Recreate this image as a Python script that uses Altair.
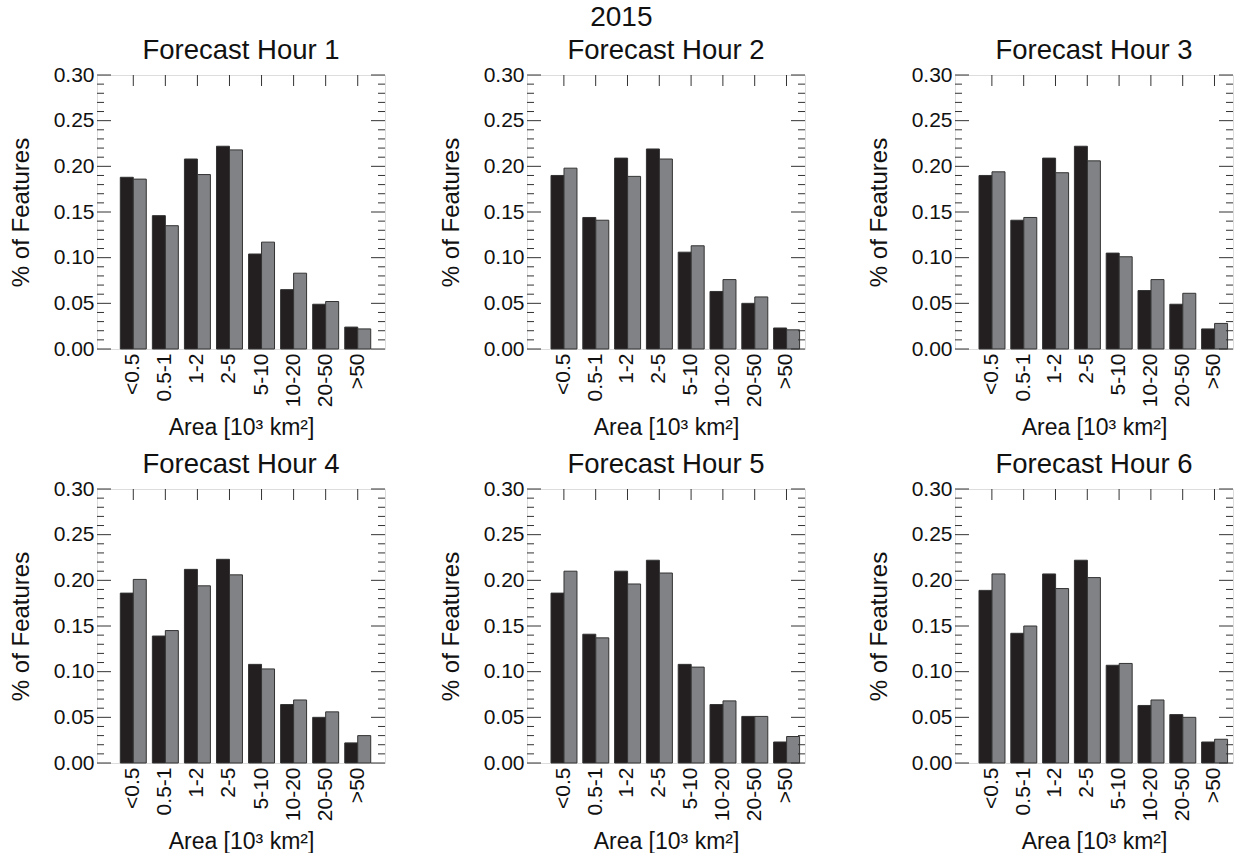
import altair as alt
import pandas as pd

# ---------------- data ----------------
categories = ["<0.5", "0.5-1", "1-2", "2-5", "5-10", "10-20", "20-50", ">50"]
series_names = ["Series 1", "Series 2"]  # black, gray

hour1_s1 = [0.188, 0.146, 0.208, 0.222, 0.104, 0.065, 0.049, 0.024]
hour1_s2 = [0.186, 0.135, 0.191, 0.218, 0.117, 0.083, 0.052, 0.022]
hour2_s1 = [0.190, 0.144, 0.209, 0.219, 0.106, 0.063, 0.050, 0.023]
hour2_s2 = [0.198, 0.141, 0.189, 0.208, 0.113, 0.076, 0.057, 0.021]
hour3_s1 = [0.190, 0.141, 0.209, 0.222, 0.105, 0.064, 0.049, 0.022]
hour3_s2 = [0.194, 0.144, 0.193, 0.206, 0.101, 0.076, 0.061, 0.028]
hour4_s1 = [0.186, 0.139, 0.212, 0.223, 0.108, 0.064, 0.050, 0.022]
hour4_s2 = [0.201, 0.145, 0.194, 0.206, 0.103, 0.069, 0.056, 0.030]
hour5_s1 = [0.186, 0.141, 0.210, 0.222, 0.108, 0.064, 0.051, 0.023]
hour5_s2 = [0.210, 0.137, 0.196, 0.208, 0.105, 0.068, 0.051, 0.029]
hour6_s1 = [0.189, 0.142, 0.207, 0.222, 0.107, 0.063, 0.053, 0.023]
hour6_s2 = [0.207, 0.150, 0.191, 0.203, 0.109, 0.069, 0.050, 0.026]

panel_titles = ["Forecast Hour 1", "Forecast Hour 2", "Forecast Hour 3",
                "Forecast Hour 4", "Forecast Hour 5", "Forecast Hour 6"]
y_major_ticks = [0.00, 0.05, 0.10, 0.15, 0.20, 0.25, 0.30]
y_minor_ticks = [0.01, 0.02, 0.03, 0.04, 0.06, 0.07, 0.08, 0.09,
                 0.11, 0.12, 0.13, 0.14, 0.16, 0.17, 0.18, 0.19,
                 0.21, 0.22, 0.23, 0.24, 0.26, 0.27, 0.28, 0.29]
overall_title = "2015"
x_title = "Area [10³ km²]"
y_title = "% of Features"

# ---------------- style ----------------
FONT = "Liberation Sans"
BAR_COLORS = ["#231f20", "#808285"]
EDGE = "#333333"
HEIGHT = 274
MAJOR_LEN = 14
MINOR_LEN = 7
TOP_TICK_LEN = 11


def panel(title, s1, s2, width, pad_outer, align):
    rows = []
    for c, a, b in zip(categories, s1, s2):
        rows.append({"value": a, "cat": c, "series": series_names[0]})
        rows.append({"value": b, "cat": c, "series": series_names[1]})
    df = pd.DataFrame(rows)

    xscale = alt.Scale(paddingInner=0.19, paddingOuter=pad_outer, align=align)
    yscale = alt.Scale(domain=[0, 0.30], nice=False, zero=True)

    xaxis = alt.Axis(title=x_title, labelAngle=270, ticks=False, domain=False,
                     labelFontSize=21, labelPadding=4, labelColor="#111",
                     titleFontSize=23, titleFontWeight="normal", titlePadding=10,
                     titleColor="#111", labelFont=FONT, titleFont=FONT)
    yaxis = alt.Axis(title=y_title, values=y_major_ticks, format=".2f", ticks=False,
                     domain=False, grid=False, labelFontSize=21, labelPadding=3,
                     labelColor="#111", titleFontSize=24, titleFontWeight="normal",
                     titlePadding=20, titleColor="#111", labelFont=FONT, titleFont=FONT)

    bars = alt.Chart(df).mark_bar(stroke=EDGE, strokeWidth=1).encode(
        x=alt.X("cat:N", sort=categories, scale=xscale, axis=xaxis),
        xOffset=alt.XOffset("series:N", sort=series_names,
                            scale=alt.Scale(paddingInner=0, paddingOuter=0)),
        y=alt.Y("value:Q", scale=yscale, axis=yaxis),
        color=alt.Color("series:N", scale=alt.Scale(domain=series_names, range=BAR_COLORS),
                        legend=None),
    )

    major_df = pd.DataFrame({"value": y_major_ticks})
    minor_df = pd.DataFrame({"value": y_minor_ticks})
    cat_df = pd.DataFrame({"cat": categories})

    def ytick(df_, x0, x1):
        return alt.Chart(df_).mark_rule(color=EDGE, strokeWidth=1).encode(
            y=alt.Y("value:Q", scale=yscale, axis=yaxis),
            x=alt.value(x0), x2=alt.value(x1))

    layers = [
        bars,
        ytick(major_df, 0, MAJOR_LEN),
        ytick(major_df, width, width - MAJOR_LEN),
        ytick(minor_df, 0, MINOR_LEN),
        ytick(minor_df, width, width - MINOR_LEN),
        alt.Chart(cat_df).mark_rule(color=EDGE, strokeWidth=1).encode(
            x=alt.X("cat:N", sort=categories, scale=xscale, axis=xaxis),
            y=alt.value(0), y2=alt.value(TOP_TICK_LEN)),
    ]
    return alt.layer(*layers).properties(
        width=width, height=HEIGHT,
        title=alt.TitleParams(title, fontSize=27.5, fontWeight="normal", font=FONT,
                              color="#111", offset=0),
    )


all_s1 = [hour1_s1, hour2_s1, hour3_s1, hour4_s1, hour5_s1, hour6_s1]
all_s2 = [hour1_s2, hour2_s2, hour3_s2, hour4_s2, hour5_s2, hour6_s2]
col_width = [288, 278, 278]
col_pad = [0.586, 0.466, 0.466]
col_align = [0.62, 0.81, 0.81]


def row(r):
    ps = []
    for c in range(3):
        i = r * 3 + c
        ps.append(panel(panel_titles[i], all_s1[i], all_s2[i],
                        col_width[c], col_pad[c], col_align[c]))
    inner = alt.hconcat(ps[0], ps[1], spacing=52)
    return alt.hconcat(inner, ps[2], spacing=60)


chart = alt.vconcat(row(0), row(1), spacing=9).properties(
    title=alt.TitleParams(overall_title, fontSize=28, fontWeight="normal", font=FONT,
                          color="#111", anchor="middle", offset=4),
    padding={"left": 8, "top": 4, "right": 5, "bottom": 2},
).configure_view(stroke=EDGE, strokeWidth=1).configure(font=FONT, background="white")

chart.save("out.html", embed_options={"renderer": "svg", "actions": False})
